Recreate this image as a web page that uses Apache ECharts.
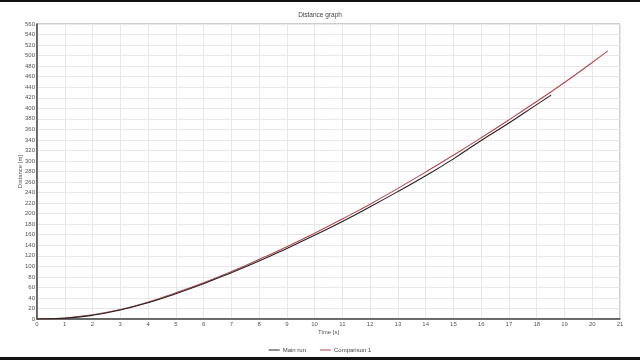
<!DOCTYPE html>
<html><head><meta charset="utf-8">
<script src="https://cdn.jsdelivr.net/npm/echarts@6/dist/echarts.min.js"></script>
<style>html,body{margin:0;padding:0;background:#fff}#c{width:640px;height:360px}</style>
</head><body><div id="c"></div>
<script>
const mainT = [0,1,2,3,4,5,6,7,8,9,10,11,12,13,14,15,16,17,18,18.52];
const mainD = [0,1.5,7,17,31,48,67,88,110,134,159,185,213,242,272,304,339,372,407,425];
const compT = [0,1,2,3,4,5,6,7,8,9,10,11,12,13,14,15,16,17,18,19,20,20.56];
const compD = [0,2,8,18,32,50,69,90,113,137,163,190,218,248,279,311,344,378,413,449,487,509];
const seriesNames = ['Main run','Comparison 1'];
const pair = (t,d)=>t.map((v,i)=>[v,d[i]]);
const chart = echarts.init(document.getElementById('c'),null,{renderer:'canvas'});
const FF = 'Liberation Sans, Arial, sans-serif';
const lbl = {fontFamily:FF,fontSize:6,color:'#555'};
chart.setOption({
  animation:false,
  backgroundColor:'#fff',
  title:{text:'Distance graph',left:'center',top:7,textStyle:{fontFamily:FF,fontSize:6.5,fontWeight:'normal',color:'#444'}},
  legend:{bottom:2,left:'center',itemWidth:11,itemHeight:1,itemGap:14,icon:'rect',
    textStyle:{fontFamily:FF,fontSize:6,color:'#444',padding:[0,0,0,-2]},data:seriesNames},
  grid:{left:37,right:20,top:24,bottom:41,show:true,borderColor:'#9a9a9a',borderWidth:1},
  xAxis:{type:'value',min:0,max:21,interval:1,name:'Time [s]',nameLocation:'middle',nameGap:10,
    nameMoveOverlap:false,nameTextStyle:lbl,
    axisLine:{show:true,onZero:false,lineStyle:{color:'#444',width:1.5}},
    axisTick:{show:false},axisLabel:Object.assign({margin:2},lbl),
    splitLine:{show:true,lineStyle:{color:'#e8e8e8',width:1}}},
  yAxis:{type:'value',min:0,max:560,interval:20,name:'Distance [m]',nameLocation:'middle',nameGap:14,
    nameMoveOverlap:false,nameTextStyle:lbl,
    axisLine:{show:true,lineStyle:{color:'#444',width:1.5}},
    axisTick:{show:false},axisLabel:Object.assign({margin:2},lbl),
    splitLine:{show:true,lineStyle:{color:'#e8e8e8',width:1}}},
  series:[
    {name:seriesNames[0],type:'line',data:pair(mainT,mainD),smooth:true,showSymbol:false,
      lineStyle:{color:'#222',width:1.1},itemStyle:{color:'#222'},z:3},
    {name:seriesNames[1],type:'line',data:pair(compT,compD),smooth:true,showSymbol:false,
      lineStyle:{color:'#b8474a',width:1.1},itemStyle:{color:'#b8474a'},z:2}
  ],
  graphic:[
    {type:'rect',shape:{x:0,y:0,width:640,height:2},style:{fill:'#111'},silent:true},
    {type:'rect',shape:{x:0,y:357,width:640,height:3},style:{fill:'#111'},silent:true}
  ]
});
</script></body></html>
